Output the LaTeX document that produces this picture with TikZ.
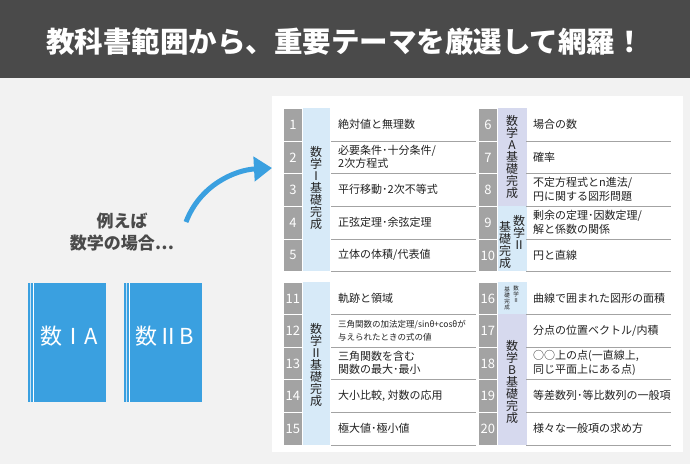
\documentclass[tikz,border=0pt]{standalone}
\usepackage{fontspec}
\setmainfont{Noto Sans CJK JP}
\usetikzlibrary{arrows.meta}
\definecolor{hdr}{HTML}{4A4A4A}
\definecolor{bg}{HTML}{F2F2F2}
\definecolor{numg}{HTML}{A3A3A3}
\definecolor{lblue}{HTML}{D7EAF8}
\definecolor{lav}{HTML}{D6D9EE}
\definecolor{bookb}{HTML}{3AA0E0}
\definecolor{txt}{HTML}{222222}
\tikzset{
  numcell/.style={fill=numg,draw=white,line width=0.8pt,minimum width=19pt,inner sep=0pt,text=white,font=\fontsize{13}{13}\selectfont},
  txtcell/.style={anchor=west,inner sep=0pt,align=left,text=txt,font=\fontsize{11}{13.5}\selectfont},
  vlab/.style={align=center,inner sep=0pt,text=txt,font=\fontsize{12}{12}\selectfont},
}
\newcommand{\tabrow}[6]{% name, x0 (num left), y0, y1, number, text
  \node[numcell,minimum height={#4-#3},anchor=north west] (n#1) at (#2,#3) {#5};
  \draw[numg,line width=1pt] (#2+48,#4) -- (#2+193,#4);
  \node[txtcell] (t#1) at (#2+55,{(#3+#4)/2}) {#6};
}
\begin{document}
\begin{tikzpicture}[x=1pt,y=-1pt]
\useasboundingbox (0,0) rectangle (690,464);
\fill[bg] (0,0) rectangle (690,464);
\fill[hdr] (0,0) rectangle (690,78);
\node[text=white,font=\bfseries\fontsize{28.5}{28.5}\selectfont] (title) at (345,42) {教科書範囲から、重要テーマを厳選して網羅！};
\fill[white] (272,96) rectangle (683,452);
% label columns
\fill[lblue] (302,108) rectangle (330,271);
\fill[lav] (497,108) rectangle (527,206);
\fill[lblue] (497,206) rectangle (527,271);
\fill[lblue] (302,282) rectangle (330,445);
\fill[lblue] (497,282) rectangle (527,314);
\fill[lav] (497,314) rectangle (527,445);
% rows
\tabrow{1}{283}{108}{141}{1}{絶対値と無理数}
\tabrow{2}{283}{141}{173}{2}{必要条件･十分条件/\\2次方程式}
\tabrow{3}{283}{173}{206}{3}{平行移動･2次不等式}
\tabrow{4}{283}{206}{239}{4}{正弦定理･余弦定理}
\tabrow{5}{283}{239}{271}{5}{立体の体積/代表値}
\tabrow{6}{478}{108}{141}{6}{場合の数}
\tabrow{7}{478}{141}{173}{7}{確率}
\tabrow{8}{478}{173}{206}{8}{不定方程式とn進法/\\円に関する図形問題}
\tabrow{9}{478}{206}{239}{9}{剰余の定理･因数定理/\\解と係数の関係}
\tabrow{10}{478}{239}{271}{10}{円と直線}
\tabrow{11}{283}{282}{314}{11}{軌跡と領域}
\tabrow{12}{283}{314}{347}{12}{{\fontsize{8.5}{11}\selectfont 三角関数の加法定理/sinθ+cosθが}\\{\fontsize{8.5}{11}\selectfont 与えられたときの式の値}}
\tabrow{13}{283}{347}{379}{13}{三角関数を含む\\関数の最大･最小}
\tabrow{14}{283}{379}{412}{14}{大小比較, 対数の応用}
\tabrow{15}{283}{412}{445}{15}{極大値･極小値}
\tabrow{16}{478}{282}{314}{16}{曲線で囲まれた図形の面積}
\tabrow{17}{478}{314}{347}{17}{分点の位置ベクトル/内積}
\tabrow{18}{478}{347}{379}{18}{○○上の点(一直線上,\\同じ平面上にある点)}
\tabrow{19}{478}{379}{412}{19}{等差数列･等比数列の一般項}
\tabrow{20}{478}{412}{445}{20}{様々な一般項の求め方}
% vertical labels
\node[vlab] (v1) at (316,188) {数\\学\\Ⅰ\\基\\礎\\完\\成};
\node[vlab] (v2) at (512,157) {数\\学\\A\\基\\礎\\完\\成};
\node[vlab] (v3a) at (519,232) {数\\学\\Ⅱ};
\node[vlab] (v3b) at (505,245) {基\\礎\\完\\成};
\node[vlab] (v4) at (316,365) {数\\学\\Ⅱ\\基\\礎\\完\\成};
\node[vlab,font=\fontsize{5.5}{6}\selectfont] (v5a) at (516,294) {数\\学\\Ⅱ};
\node[vlab,font=\fontsize{5.5}{6}\selectfont] (v5b) at (507,298) {基\\礎\\完\\成};
\node[vlab] (v6) at (512,382) {数\\学\\B\\基\\礎\\完\\成};
% left side
\node[align=center,text=hdr,font=\bfseries\fontsize{17}{22}\selectfont] (ex) at (122,232) {例えば\\数学の場合…};
\foreach \bx/\bt/\bn in {28/数ⅠA/b1,124/数ⅡB/b2}{
  \fill[bookb] (\bx,283) rectangle (\bx+78,402);
  \draw[white,line width=0.8pt] (\bx+5,283) -- (\bx+5,402);
  \draw[white!70!bookb,line width=0.6pt] (\bx+2,283) -- (\bx+2,402);
  \node[text=white,font=\fontsize{22}{22}\selectfont] (\bn) at (\bx+41,336) {\bt};
}
\coordinate (as) at (186,222);
\coordinate (ae) at (272,168);
\draw[bookb,line width=5pt,-{Triangle[length=18pt,width=24pt]}] (as) .. controls (200,185) and (235,170) .. (ae);
\end{tikzpicture}
\end{document}
